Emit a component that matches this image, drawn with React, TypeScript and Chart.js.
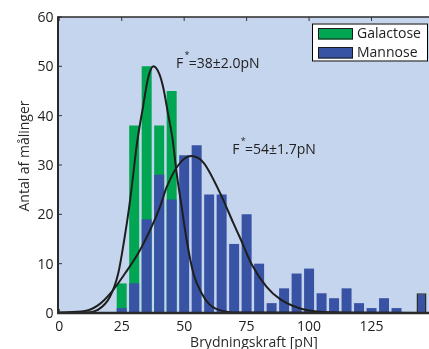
import React, { useEffect, useRef } from "react";
import { Chart, registerables } from "chart.js";

Chart.register(...registerables);

const FONT = "'Open Sans', 'DejaVu Sans', sans-serif";

// Histogram bins (centres, pN)
const binCenters = [25, 30, 35, 40, 45, 50, 55, 60, 65, 70, 75, 80, 85, 90, 95, 100, 105, 110, 115, 120, 125, 130, 135, 140, 145];
const galactoseCounts = [6, 38, 50, 38, 45, 0, 0, 0, 0, 0, 0, 0, 0, 0, 0, 0, 0, 0, 0, 0, 0, 0, 0, 0, 0];
const mannoseCounts = [1, 6, 19, 28, 23, 32, 34, 24, 24, 14, 20, 10, 2, 5, 8, 9, 4, 3, 5, 2, 1, 3, 1, 0, 4];
const seriesLabels = ["Galactose", "Mannose"];

// Fitted curves
const galFitX = [0, 10, 15.6, 20.3, 23.6, 26, 28, 29.6, 31, 33.6, 35.5, 37.7, 40, 41.7, 43.5, 45.4, 47, 49, 51, 53.7, 57, 60, 63, 72, 150];
const galFitY = [0, 0.1, 0.7, 3.3, 8, 14.8, 21.5, 28, 34, 42, 47.5, 50, 48.5, 45.5, 40.5, 35.1, 28.3, 21.5, 14.8, 8, 4, 1.8, 0.8, 0.1, 0];
const manFitX = [0, 10.3, 15.6, 21, 26.3, 31.6, 37, 40.3, 43, 47.7, 52.8, 57.7, 64.4, 69.7, 72.4, 77, 83, 88.4, 96.4, 103, 115, 150];
const manFitY = [0.1, 0.4, 1.6, 4.3, 8, 12.1, 17.5, 21.5, 25.5, 30, 31.8, 30.5, 24.3, 18.2, 15.2, 9.9, 5.3, 2.8, 0.9, 0.3, 0.05, 0];

const fitTexts = ["=38\u00B12.0pN", "=54\u00B11.7pN"];
const fitTextX = [46.74, 69.28];
const fitTextY = [49.67, 32.23];

const xTicks = [0, 25, 50, 75, 100, 125];
const yTicks = [0, 10, 20, 30, 40, 50, 60];
const xTitle = "Brydningskraft [pN]";
const yTitle = "Antal af m\u00E5linger";

const GREEN = "#00A651";
const BLUE = "#3953A4";
const BG = "#C6D5EE";
const DARK = "#222222";

const plotDecor = {
  id: "plotDecor",
  beforeDraw(chart: any) {
    const { ctx, chartArea: a } = chart;
    ctx.save();
    ctx.fillStyle = BG;
    ctx.fillRect(a.left, a.top, a.right - a.left, a.bottom - a.top);
    ctx.restore();
  },
  beforeDatasetsDraw(chart: any) {
    const { ctx, chartArea: a, scales } = chart;
    ctx.save();
    ctx.strokeStyle = "#333";
    ctx.lineWidth = 1;
    ctx.beginPath();
    for (const v of xTicks) {
      const x = scales.x.getPixelForValue(v);
      ctx.moveTo(x, a.bottom);
      ctx.lineTo(x, a.bottom - 4);
      ctx.moveTo(x, a.top);
      ctx.lineTo(x, a.top + 4);
    }
    for (const v of yTicks) {
      const y = scales.y.getPixelForValue(v);
      ctx.moveTo(a.left, y);
      ctx.lineTo(a.left + 4, y);
    }
    ctx.stroke();
    ctx.restore();
  },
  afterDatasetsDraw(chart: any) {
    const { ctx, chartArea: a } = chart;
    ctx.save();
    ctx.strokeStyle = "#2a2a2a";
    ctx.lineWidth = 2.5;
    ctx.beginPath();
    ctx.moveTo(a.left - 1, a.bottom);
    ctx.lineTo(a.right, a.bottom);
    ctx.stroke();
    ctx.lineWidth = 2;
    ctx.beginPath();
    ctx.moveTo(a.left, a.top);
    ctx.lineTo(a.left, a.bottom);
    ctx.stroke();
    ctx.lineWidth = 1.5;
    ctx.beginPath();
    ctx.moveTo(a.left - 1, a.top);
    ctx.lineTo(a.right, a.top);
    ctx.stroke();
    ctx.restore();
  },
  afterDraw(chart: any) {
    const { ctx, chartArea: a, scales } = chart;
    ctx.save();
    // tick labels
    ctx.font = `14px ${FONT}`;
    ctx.fillStyle = DARK;
    ctx.textBaseline = "alphabetic";
    ctx.textAlign = "center";
    for (const v of xTicks) {
      ctx.fillText(String(v), scales.x.getPixelForValue(v), a.bottom + 17.5);
    }
    ctx.textAlign = "right";
    for (const v of yTicks) {
      ctx.fillText(String(v), a.left - 4.5, scales.y.getPixelForValue(v) + 5);
    }
    // fit annotations
    ctx.textAlign = "left";
    for (let i = 0; i < fitTexts.length; i++) {
      const px = scales.x.getPixelForValue(fitTextX[i]);
      const py = scales.y.getPixelForValue(fitTextY[i]);
      ctx.font = `14px ${FONT}`;
      ctx.fillText("F", px, py);
      ctx.font = `9px ${FONT}`;
      ctx.fillText("*", px + 8.5, py - 10);
      ctx.font = `14px ${FONT}`;
      ctx.fillText(fitTexts[i], px + 12.7, py);
    }
    // axis titles
    ctx.font = `14px ${FONT}`;
    ctx.fillStyle = "#2a2a2a";
    ctx.textAlign = "center";
    ctx.fillText(xTitle, 254, 347);
    ctx.save();
    ctx.translate(29, 156);
    ctx.rotate(-Math.PI / 2);
    ctx.fillText(yTitle, 0, 0);
    ctx.restore();
    // legend
    const bx = a.right - 122;
    const by = a.top + 6.5;
    const bw = 116;
    const bh = 38;
    ctx.fillStyle = "#ffffff";
    ctx.fillRect(bx, by, bw, bh);
    ctx.strokeStyle = "#000";
    ctx.lineWidth = 1;
    ctx.strokeRect(bx + 0.5, by + 0.5, bw - 1, bh - 1);
    const ds = chart.data.datasets;
    for (let i = 0; i < 2; i++) {
      const sy = by + 4.5 + i * 19;
      ctx.fillStyle = ds[i].backgroundColor;
      ctx.fillRect(bx + 6, sy, 35, 11.5);
      ctx.strokeStyle = "#1a1a1a";
      ctx.strokeRect(bx + 6.5, sy + 0.5, 34, 10.5);
      ctx.fillStyle = DARK;
      ctx.textAlign = "left";
      ctx.textBaseline = "middle";
      ctx.font = `14px ${FONT}`;
      ctx.fillText(ds[i].label, bx + 45, sy + 6);
    }
    ctx.restore();
  },
};

export default function App() {
  const ref = useRef<HTMLCanvasElement>(null);
  useEffect(() => {
    const chart = new Chart(ref.current as HTMLCanvasElement, {
      type: "bar",
      data: {
        datasets: [
          {
            type: "bar",
            label: seriesLabels[0],
            data: binCenters.map((x, i) => ({ x, y: galactoseCounts[i] })),
            backgroundColor: GREEN,
            borderWidth: 0,
            grouped: false,
            barPercentage: 0.8,
            categoryPercentage: 1,
            order: 2,
          } as any,
          {
            type: "bar",
            label: seriesLabels[1],
            data: binCenters.map((x, i) => ({ x, y: mannoseCounts[i] })),
            backgroundColor: BLUE,
            borderColor: "#2b2b2b",
            borderWidth: (c: any) => (c.dataIndex === binCenters.length - 1 ? 1.5 : 0),
            grouped: false,
            barPercentage: 0.8,
            categoryPercentage: 1,
            order: 1,
          } as any,
          {
            type: "line",
            label: "fitG",
            data: galFitX.map((x, i) => ({ x, y: galFitY[i] })),
            borderColor: "#1e1e1e",
            borderWidth: 2,
            pointRadius: 0,
            cubicInterpolationMode: "monotone",
            fill: false,
            order: 0,
          } as any,
          {
            type: "line",
            label: "fitM",
            data: manFitX.map((x, i) => ({ x, y: manFitY[i] })),
            borderColor: "#1e1e1e",
            borderWidth: 2,
            pointRadius: 0,
            cubicInterpolationMode: "monotone",
            fill: false,
            order: 0,
          } as any,
        ],
      },
      options: {
        responsive: false,
        animation: false,
        layout: { padding: { top: 17, right: 6, left: 0, bottom: 0 } },
        plugins: { legend: { display: false }, tooltip: { enabled: false } },
        scales: {
          x: {
            type: "linear",
            min: -0.5,
            max: 150,
            offset: false,
            grid: { display: false, offset: false, drawTicks: false },
            border: { display: false },
            afterBuildTicks: (s: any) => {
              s.ticks = xTicks.map((v) => ({ value: v }));
            },
            afterFit: (s: any) => {
              s.height = 36;
            },
            ticks: { display: false },
          },
          y: {
            type: "linear",
            min: 0,
            max: 60,
            grid: { display: false, drawTicks: false },
            border: { display: false },
            afterFit: (s: any) => {
              s.width = 58;
            },
            ticks: { display: false, stepSize: 10 },
          },
        },
      },
      plugins: [plotDecor],
    } as any);
    return () => chart.destroy();
  }, []);
  return (
    <div
      style={{
        position: "fixed",
        left: 0,
        top: 0,
        width: 429,
        height: 349,
        overflow: "hidden",
        background: "#fff",
      }}
    >
      <canvas ref={ref} width={440} height={349} style={{ display: "block", width: 440, height: 349 }} />
    </div>
  );
}
